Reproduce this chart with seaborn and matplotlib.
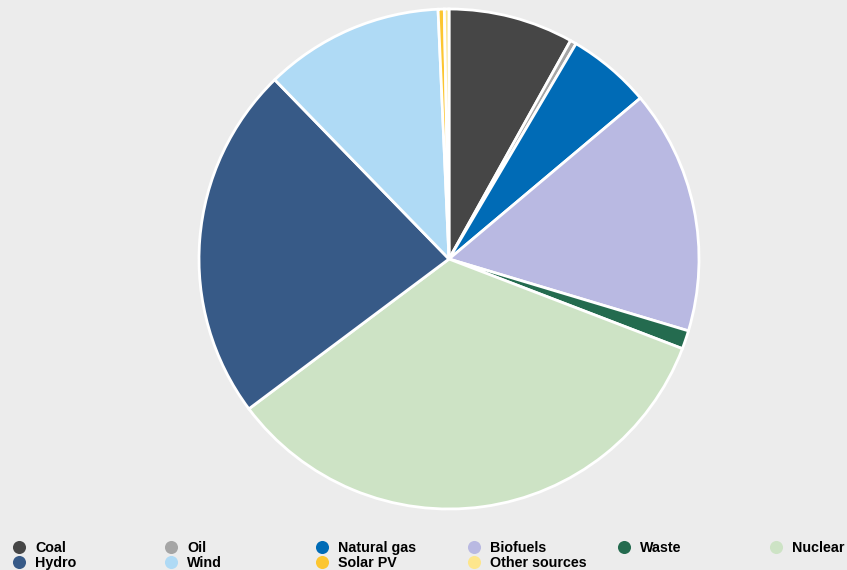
import matplotlib.pyplot as plt
import seaborn as sns
from matplotlib.lines import Line2D

# Shares of supply by source (%)
sources = ['Coal', 'Oil', 'Natural gas', 'Biofuels', 'Waste', 'Nuclear',
           'Hydro', 'Wind', 'Solar PV', 'Other sources']
shares = [8.1, 0.4, 5.4, 15.8, 1.2, 34.0, 23.0, 11.6, 0.4, 0.3]
colours = ['#464646', '#a5a5a5', '#006bb6', '#b9b9e2', '#246b4f', '#cde3c5',
           '#375a87', '#afdaf5', '#fcc630', '#fde68c']

# legend columns (top row, bottom row)
legend_cols = [['Coal', 'Hydro'], ['Oil', 'Wind'], ['Natural gas', 'Solar PV'],
               ['Biofuels', 'Other sources'], ['Waste'], ['Nuclear']]
col_x = [19, 171, 322, 474, 624, 776]

sns.set_theme(style='white')
plt.rcParams['font.family'] = ['Liberation Sans', 'DejaVu Sans']

W, H = 847, 570
fig = plt.figure(figsize=(W / 100, H / 100), dpi=100, facecolor='#ececec')

cx, cy, r = 449, 259, 250
ax = fig.add_axes([(cx - r) / W, (H - cy - r) / H, 2 * r / W, 2 * r / H])
ax.set_facecolor('none')
wedges, _ = ax.pie(shares, colors=colours, startangle=90, counterclock=False, radius=1,
                   wedgeprops={'edgecolor': 'white', 'linewidth': 2})
for w in wedges:
    w.set_clip_on(False)
ax.set_xlim(-1, 1)
ax.set_ylim(-1, 1)
ax.set_aspect('auto')
ax.axis('off')

col_of = dict(zip(sources, colours))
for names, x in zip(legend_cols, col_x):
    handles = [Line2D([], [], marker='o', linestyle='none', markersize=9.4,
                      markerfacecolor=col_of[n], markeredgecolor='none') for n in names]
    fig.legend(handles, names, loc='upper left',
               bbox_to_anchor=((x - 7) / W, 1 - 541 / H),
               frameon=False, handlelength=1.0, handletextpad=0.6,
               borderpad=0, borderaxespad=0, labelspacing=0.05,
               labelcolor='black',
               prop={'weight': 'bold', 'size': 10.3})

fig.savefig('out.png', dpi=100, facecolor=fig.get_facecolor())
